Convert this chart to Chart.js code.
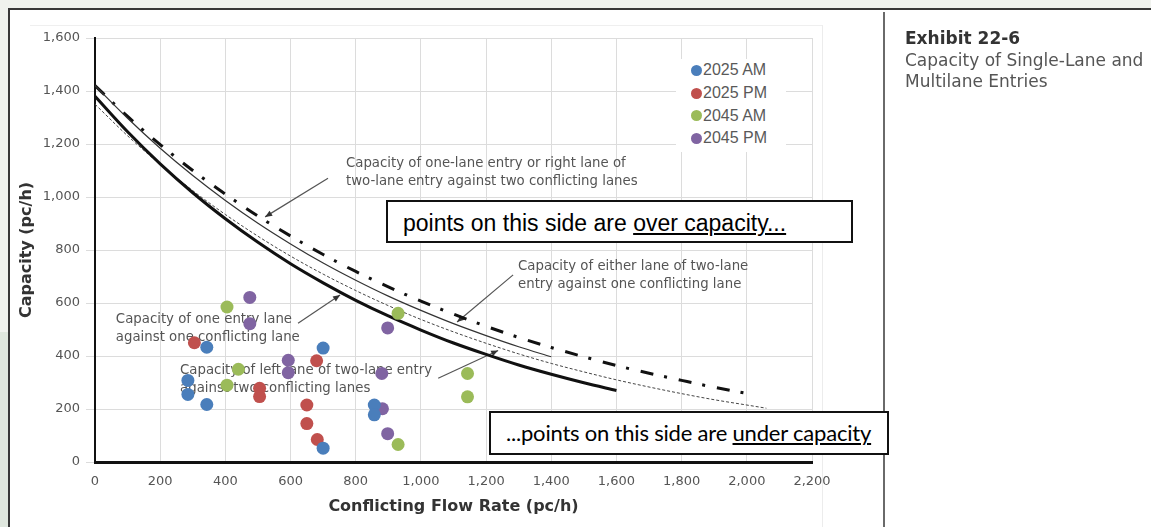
<!DOCTYPE html>
<html lang="en">
<head>
<meta charset="UTF-8">
<title>Exhibit 22-6 Capacity of Single-Lane and Multilane Entries</title>
<script src="https://cdn.jsdelivr.net/npm/chart.js"></script>
<style>
  body {
    margin: 0;
    width: 1151px;
    height: 527px;
    overflow: hidden;
    position: relative;
    background: #f0f2ee;
    font-family: "DejaVu Sans", Verdana, sans-serif;
  }
  .strip { position: absolute; left: 0; top: 332px; width: 8px; height: 195px; background: #dfe7de; }
  .page {
    position: absolute; left: 8px; top: 8px; right: 0; bottom: 0;
    background: #fff;
    border-top: 2px solid #383838;
    border-left: 2px solid #383838;
  }
  .chartframe { position: absolute; left: 30px; top: 25px; width: 792px; height: 510px;
    border-top: 1px solid #efefef; border-right: 1px solid #ececec; }
  .divider { position: absolute; left: 883px; top: 12px; width: 2px; bottom: 0; background: #6a6a6a; }
  #wrap { position: absolute; left: 0; top: 0; width: 1151px; height: 527px; }
  #legend {
    position: absolute; left: 676px; top: 59px; width: 110px; height: 93px;
    background: #fff;
    font-family: "Liberation Sans", Arial, sans-serif; font-size: 16px; color: #595959;
  }
  #legend .row { height: 22.7px; display: flex; align-items: center; }
  #legend .dot { width: 11px; height: 11px; border-radius: 50%; margin-left: 14.5px; margin-right: 1.5px; }
  .box {
    position: absolute; box-sizing: border-box; background: #fff;
    border: 2px solid #111; color: #000; white-space: nowrap;
  }
  .box span { position: absolute; }
  #over { left: 386px; top: 200px; width: 467px; height: 43px;
    font-family: "Liberation Sans", Arial, sans-serif; font-size: 23px; line-height: 25px; }
  #over span { left: 15px; top: 8.5px; }
  #under { left: 489px; top: 411px; width: 400px; height: 44px;
    font-family: Lato, "Open Sans", sans-serif; font-size: 22px; letter-spacing: -0.2px; line-height: 27px; }
  #under span { left: 15px; top: 6px; }
  .side { position: absolute; left: 905px; top: 28px; line-height: 21.7px; }
  .side b { font-size: 17px; color: #333; }
  .side div { font-size: 17px; color: #555; }
</style>
</head>
<body>
<div class="strip"></div>
<div class="page"></div>
<div class="chartframe"></div>
<div class="divider"></div>
<div id="wrap"><canvas id="capChart"></canvas></div>
<div id="legend"></div>
<div class="box" id="over"><span>points on this side are <u>over capacity...</u></span></div>
<div class="box" id="under"><span>...points on this side are <u>under capacity</u></span></div>
<div class="side">
  <b>Exhibit 22-6</b>
  <div>Capacity of Single-Lane and</div>
  <div>Multilane Entries</div>
</div>

<script>
// observed demand points (conflicting flow, entry flow) in pc/h
const seriesNames = ['2025 AM', '2025 PM', '2045 AM', '2045 PM'];
const seriesColors = ['#4a7ebb', '#c0504d', '#9bbb59', '#8064a2'];

const am2025X = [285, 285, 343, 343, 700, 700, 857, 857];
const am2025Y = [308, 255, 433, 217, 430, 52, 215, 178];
const pm2025X = [305, 505, 505, 650, 650, 680, 682];
const pm2025Y = [450, 278, 247, 215, 145, 382, 85];
const am2045X = [405, 405, 440, 930, 930, 1143, 1143];
const am2045Y = [585, 290, 350, 561, 66, 334, 246];
const pm2045X = [475, 475, 593, 593, 880, 882, 898, 898];
const pm2045Y = [621, 522, 384, 337, 334, 201, 506, 107];

// capacity curves, read every 100 pc/h of conflicting flow
const flowSteps = [0, 100, 200, 300, 400, 500, 600, 700, 800, 900, 1000,
  1100, 1200, 1300, 1400, 1500, 1600, 1700, 1800, 1900, 2000, 2060];
const oneLaneOneConflict = [1380, 1246, 1125, 1016, 918, 829, 748, 676, 610, 551, 498,
  449, 406, 366, 331, 299, 270];
const twoLaneOneConflict = [1420, 1297, 1184, 1081, 987, 901, 823, 751, 686, 626, 572,
  522, 477, 435, 397];
const oneLaneTwoConflict = [1420, 1304, 1198, 1100, 1011, 928, 853, 783, 719, 661, 607,
  558, 512, 470, 432, 397, 364, 335, 308, 282, 259];
const leftLaneTwoConflict = [1350, 1231, 1123, 1024, 934, 852, 777, 709, 647, 590, 538,
  491, 448, 408, 372, 340, 310, 283, 258, 235, 215, 203];

const xTicks = [0, 200, 400, 600, 800, 1000, 1200, 1400, 1600, 1800, 2000, 2200];
const yTicks = [0, 200, 400, 600, 800, 1000, 1200, 1400, 1600];

// callouts: text anchor, arrow start and tip, all in chart units
const notes = [
  { lines: ['Capacity of one-lane entry or right lane of', 'two-lane entry against two conflicting lanes'],
    at: [770, 1128], from: [715, 1071], to: [522, 925] },
  { lines: ['Capacity of either lane of two-lane', 'entry against one conflicting lane'],
    at: [1298, 739], from: [1283, 706], to: [1111, 528] },
  { lines: ['Capacity of one entry lane', 'against one conflicting lane'],
    at: [64, 538], from: [623, 524], to: [752, 630] },
  { lines: ['Capacity of left lane of two-lane entry', 'against two conflicting lanes'],
    at: [261, 347], from: [1053, 316], to: [1237, 421] }
];

const pts = (xs, ys) => xs.map((x, i) => ({ x: x, y: ys[i] }));
const curve = ys => ys.map((y, i) => ({ x: flowSteps[i], y: y }));

const pointSets = [[am2025X, am2025Y], [pm2025X, pm2025Y], [am2045X, am2045Y], [pm2045X, pm2045Y]];
const datasets = pointSets.map((s, i) => ({
  label: seriesNames[i],
  data: pts(s[0], s[1]),
  backgroundColor: seriesColors[i],
  borderWidth: 0,
  pointRadius: 6.5,
  order: 1
}));

function curveSet(label, ys, width, dash, color) {
  return {
    label: label,
    data: curve(ys),
    showLine: true,
    borderColor: color,
    borderWidth: width,
    borderDash: dash,
    pointRadius: 0,
    cubicInterpolationMode: 'monotone',
    fill: false,
    order: 2
  };
}
datasets.push(curveSet('one lane vs one', oneLaneOneConflict, 3, [], '#111'));
datasets.push(curveSet('two lane vs one', twoLaneOneConflict, 1.2, [], '#333'));
datasets.push(curveSet('one lane vs two', oneLaneTwoConflict, 3, [13, 11, 3, 12], '#111'));
datasets.push(curveSet('left lane vs two', leftLaneTwoConflict, 1, [3, 2], '#444'));

const calloutPlugin = {
  id: 'callouts',
  beforeDatasetsDraw(chart) {
    const ctx = chart.ctx;
    const xs = chart.scales.x, ys = chart.scales.y;
    ctx.save();
    ctx.font = '13.3px "DejaVu Sans"';
    ctx.textBaseline = 'middle';
    notes.forEach(n => {
      const tx = xs.getPixelForValue(n.at[0]);
      const ty = ys.getPixelForValue(n.at[1]);
      ctx.fillStyle = '#555';
      n.lines.forEach((t, i) => ctx.fillText(t, tx, ty + i * 18));
      const x1 = xs.getPixelForValue(n.from[0]), y1 = ys.getPixelForValue(n.from[1]);
      const x2 = xs.getPixelForValue(n.to[0]), y2 = ys.getPixelForValue(n.to[1]);
      ctx.strokeStyle = '#555';
      ctx.lineWidth = 1.2;
      ctx.beginPath();
      ctx.moveTo(x1, y1);
      ctx.lineTo(x2, y2);
      ctx.stroke();
      const a = Math.atan2(y2 - y1, x2 - x1);
      ctx.fillStyle = '#333';
      ctx.beginPath();
      ctx.moveTo(x2, y2);
      ctx.lineTo(x2 - 7 * Math.cos(a) + 3 * Math.sin(a), y2 - 7 * Math.sin(a) - 3 * Math.cos(a));
      ctx.lineTo(x2 - 7 * Math.cos(a) - 3 * Math.sin(a), y2 - 7 * Math.sin(a) + 3 * Math.cos(a));
      ctx.closePath();
      ctx.fill();
    });
    ctx.restore();
  }
};

Chart.defaults.font.family = '"DejaVu Sans", Verdana, sans-serif';
Chart.defaults.color = '#555';

new Chart(document.getElementById('capChart'), {
  type: 'scatter',
  data: { datasets: datasets },
  options: {
    responsive: true,
    maintainAspectRatio: false,
    animation: false,
    events: [],
    layout: { padding: { left: 8, top: 38, right: 339, bottom: 0 } },
    plugins: { legend: { display: false }, tooltip: { enabled: false } },
    scales: {
      x: {
        type: 'linear',
        min: 0, max: 2200,
        afterFit: s => { s.height = 65; },
        afterBuildTicks: s => { s.ticks = xTicks.map(v => ({ value: v })); },
        ticks: { font: { size: 13 }, padding: 12, maxRotation: 0,
          callback: v => v.toLocaleString('en-US') },
        grid: { color: '#dcdcdc', drawTicks: false },
        border: { color: '#111', width: 3 },
        title: { display: true, text: 'Conflicting Flow Rate (pc/h)', color: '#333',
          font: { size: 16, weight: 'bold' }, padding: { top: 0, bottom: 11 } }
      },
      y: {
        min: 0, max: 1600,
        afterFit: s => { s.width = 87; },
        afterBuildTicks: s => { s.ticks = yTicks.map(v => ({ value: v })); },
        ticks: { font: { size: 13 }, padding: 6,
          callback: v => v.toLocaleString('en-US') },
        grid: { color: '#dcdcdc', tickLength: 9 },
        border: { color: '#111', width: 2 },
        title: { display: true, text: 'Capacity (pc/h)', color: '#333',
          font: { size: 16, weight: 'bold' }, padding: { top: 9, bottom: 0 } }
      }
    }
  },
  plugins: [calloutPlugin]
});

// legend built from the series names and colours
const legendBox = document.getElementById('legend');
seriesNames.forEach((name, i) => {
  const row = document.createElement('div');
  row.className = 'row';
  const dot = document.createElement('span');
  dot.className = 'dot';
  dot.style.background = seriesColors[i];
  row.appendChild(dot);
  row.appendChild(document.createTextNode(name));
  legendBox.appendChild(row);
});
</script>
</body>
</html>
